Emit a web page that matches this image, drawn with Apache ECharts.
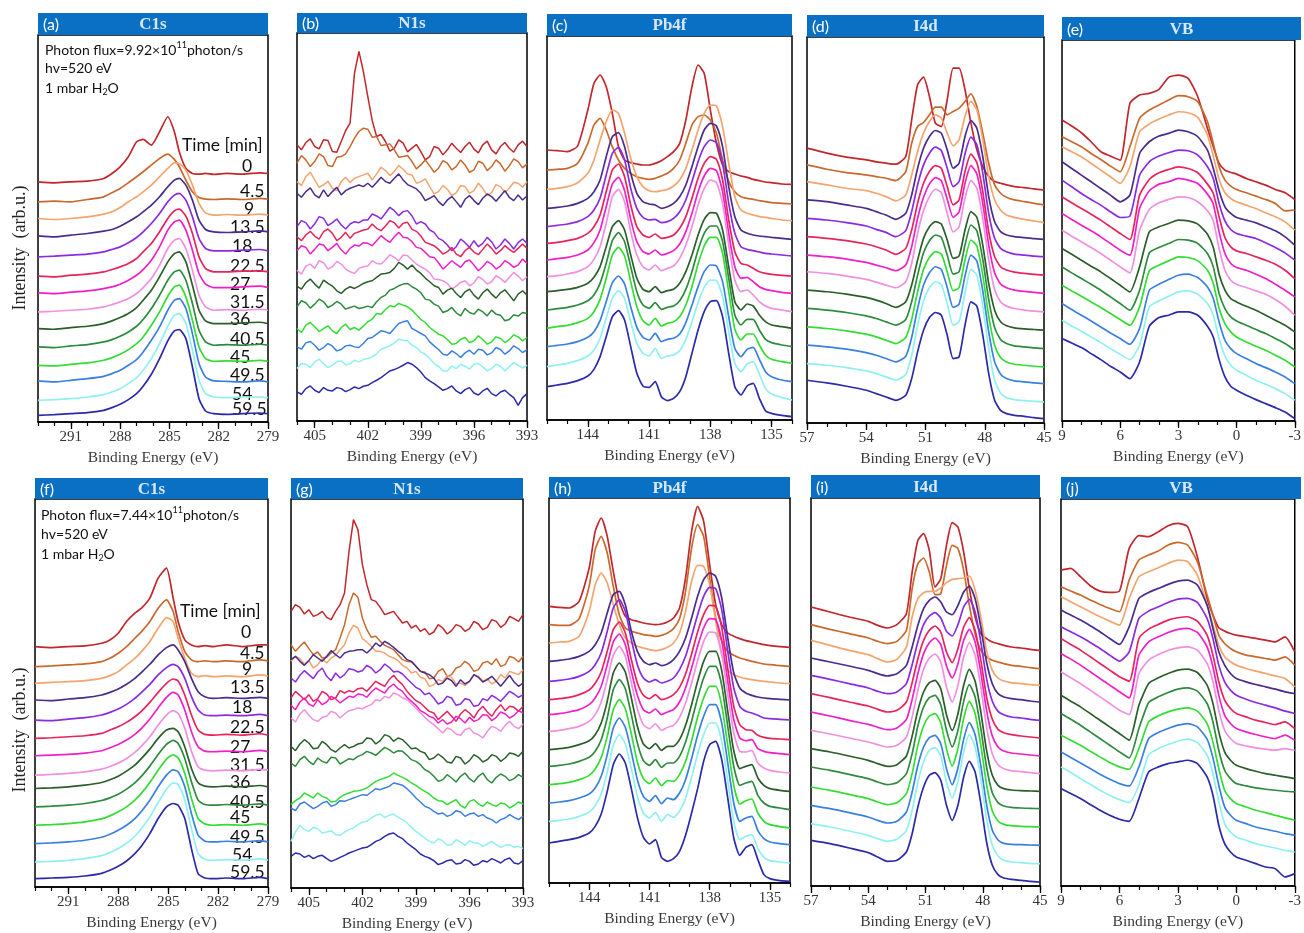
<!DOCTYPE html>
<html><head><meta charset="utf-8">
<script src="https://cdn.jsdelivr.net/npm/echarts@6/dist/echarts.min.js"></script>
<style>html,body{margin:0;padding:0;background:#fff}#c{width:1304px;height:933px}</style>
</head><body><div id="c"></div>
<script>
// ---------- data ----------
const timeLabels = ['0','4.5','9','13.5','18','22.5','27','31.5','36','40.5','45','49.5','54','59.5'];
const curveColors = ['#c1272d','#c8692e','#f4a46e','#4a2c8c','#8a2be2','#e8245a','#f020c8','#f090e0','#2a5e2a','#2e8b3e','#33dd33','#3a80e0','#90f0f0','#2a2aaa'];

const c1sX = [293,292,291,290,289,288.5,288,287.5,287,286.6,286.1,285.6,285.1,284.7,284.4,284.0,283.6,283.2,282.8,282.3,281.5,280.5,279.5,279];
const c1sTop = [
 [720,717,720,722,730,745,765,795,840,847,830,870,915,870,810,760,745,743,745,742,745,743,747,745],
 [660,662,660,667,675,687,700,717,735,750,770,790,803,787,765,725,690,673,668,667,669,667,670,668],
 [610,607,610,615,623,630,643,660,675,690,710,735,760,777,775,755,710,655,627,620,622,620,623,620],
 [558,555,560,565,572,577,587,600,615,630,650,675,705,725,730,710,665,605,577,570,568,570,573,570],
 [495,497,500,503,510,517,525,537,553,570,595,625,660,680,685,665,615,550,520,513,513,515,517,513],
 [437,435,440,443,450,457,465,475,490,510,535,570,610,633,638,617,565,495,460,450,450,452,453,450],
 [387,385,389,393,400,405,413,425,440,457,485,525,575,600,605,575,515,445,413,403,403,405,407,403],
 [330,332,335,338,345,352,360,370,385,403,430,470,520,545,550,520,455,380,345,335,337,335,338,335],
 [280,278,283,287,295,303,313,325,343,365,395,435,480,505,510,480,410,335,303,295,295,297,299,295],
 [225,223,228,232,240,247,257,270,287,307,340,380,425,450,455,425,355,275,240,230,232,230,233,230],
 [170,168,173,177,185,193,203,217,235,255,290,330,377,405,410,375,305,225,190,182,183,182,185,182],
 [123,120,125,130,137,145,155,170,187,210,245,285,335,365,370,340,265,175,135,123,122,120,123,120],
 [65,67,70,75,82,90,100,115,133,155,190,235,287,320,325,295,215,125,85,75,73,75,75,73],
 [20,22,25,28,35,43,53,67,85,107,143,190,243,273,277,250,165,70,33,25,23,25,27,25]
];
const c1sBot = [
 [720,717,720,722,730,740,760,795,820,835,865,925,955,865,795,740,725,720,723,720,725,720,725,725],
 [660,662,665,668,675,685,700,720,745,765,795,835,860,825,765,705,680,675,677,675,677,675,680,677],
 [610,613,615,618,625,633,645,665,685,705,735,775,807,795,745,685,640,630,633,630,632,630,635,632],
 [560,558,563,567,575,583,593,607,625,643,667,695,717,725,710,675,625,585,570,565,567,565,568,565],
 [500,498,503,507,515,523,533,547,565,583,607,635,657,667,660,625,570,530,515,513,515,513,517,513],
 [445,447,450,453,460,470,480,493,510,527,553,583,610,623,617,575,515,470,457,455,457,455,459,455],
 [393,395,397,401,408,417,427,440,457,475,503,537,568,583,575,530,465,420,407,405,407,405,409,405],
 [335,337,340,345,353,361,371,385,403,422,450,485,515,528,520,475,407,360,350,348,350,348,352,350],
 [295,297,300,305,313,321,332,347,365,385,413,445,470,475,465,420,355,312,302,300,302,300,304,300],
 [240,242,245,250,259,267,278,293,312,332,362,397,427,439,430,385,315,260,247,245,247,245,249,245],
 [185,187,190,195,204,213,225,240,260,281,313,350,383,396,387,340,265,205,189,185,187,185,189,185],
 [130,132,135,140,149,158,170,185,205,227,260,300,335,351,345,300,220,155,138,135,137,135,139,135],
 [75,77,80,85,94,103,115,131,152,175,210,253,293,312,307,260,175,100,83,80,82,80,84,80],
 [25,27,29,33,41,50,62,78,100,123,160,205,240,250,245,205,115,40,27,25,27,25,29,25]
];

const n1sX = [406,405.75,405.5,405.25,405,404.75,404.5,404.25,404,403.75,403.5,403.25,403,402.75,402.5,402.25,402,401.75,401.5,401.25,401,400.75,400.5,400.25,400,399.75,399.5,399.25,399,398.75,398.5,398.25,398,397.75,397.5,397.25,397,396.75,396.5,396.25,396,395.75,395.5,395.25,395,394.75,394.5,394.25,394,393.75,393.5,393.25,393];
const n1sTop = [
 [827,812,834,845,822,815,842,840,807,805,837,870,892,1042,1107,1047,972,900,852,858,837,808,817,842,832,806,817,828,807,782,792,822,817,797,812,832,817,804,822,835,814,803,827,838,812,800,822,834,817,805,827,838,822],
 [772,795,782,762,777,800,792,765,762,790,792,800,822,847,867,877,874,850,852,825,827,830,812,790,792,795,777,755,767,782,764,745,757,780,772,752,762,782,767,745,752,778,772,750,762,782,770,748,764,785,777,758,770],
 [717,705,732,745,722,700,707,718,697,690,717,730,714,727,732,737,742,722,740,760,750,735,747,765,754,740,737,712,717,725,702,680,687,705,694,675,684,705,702,682,690,712,697,675,684,708,702,685,697,715,712,700,717],
 [682,670,687,698,677,668,692,672,687,700,677,690,697,702,707,702,712,700,714,730,717,712,727,740,722,708,702,695,682,660,667,675,657,645,662,672,657,640,664,675,660,648,667,680,672,658,674,690,670,660,677,662,674],
 [582,600,594,575,590,612,607,585,594,605,587,575,590,597,594,602,602,620,614,605,622,640,630,615,627,630,614,590,597,590,572,565,547,540,527,510,522,545,534,520,540,522,532,550,537,515,527,545,532,515,534,545,532],
 [552,540,557,568,554,545,567,575,562,540,550,565,547,562,567,572,574,590,577,570,584,600,594,578,592,595,574,568,554,535,530,525,514,500,507,520,500,492,510,520,506,498,514,530,517,500,510,525,514,505,517,530,517],
 [510,525,520,500,514,530,527,510,520,532,512,500,517,527,524,534,532,525,540,555,544,535,552,565,550,548,537,520,517,505,492,490,474,455,467,480,470,460,477,482,467,450,462,478,470,455,464,480,472,460,467,485,472],
 [452,440,464,470,457,480,474,455,462,478,470,455,447,442,457,462,464,480,472,470,482,498,490,480,497,495,482,470,462,455,444,425,424,420,412,395,404,415,420,405,414,432,424,410,417,435,427,415,430,445,434,420,432],
 [404,395,414,425,410,398,422,412,404,390,382,395,402,397,404,412,417,420,430,440,442,445,457,475,467,455,467,452,442,428,417,405,400,380,392,398,382,370,387,395,377,365,384,395,380,368,384,393,377,360,380,390,377],
 [342,360,354,338,350,365,357,340,347,358,350,335,340,344,337,340,344,340,357,370,377,392,397,405,410,412,402,395,384,365,362,350,344,325,330,340,324,315,337,325,320,335,327,315,332,320,317,300,304,318,314,325,322],
 [277,265,287,295,282,268,277,285,270,262,280,290,274,280,272,284,297,305,322,320,334,345,342,352,347,342,332,318,304,295,280,270,260,255,244,230,232,245,250,235,240,255,244,230,237,252,247,235,244,258,252,240,250],
 [222,215,234,238,227,212,220,232,224,210,214,225,227,222,220,232,247,250,260,270,267,262,277,292,297,300,277,270,262,255,237,225,214,200,197,210,202,190,204,212,200,215,212,198,204,220,214,200,210,225,217,205,214],
 [157,172,170,160,177,185,172,160,167,178,180,168,172,182,177,184,187,192,202,215,220,225,234,245,242,240,227,220,207,200,187,172,164,150,150,165,157,170,164,155,170,172,162,150,157,170,164,150,162,175,167,158,167],
 [87,80,97,105,92,85,100,92,90,100,97,88,94,102,97,104,107,115,122,130,140,150,154,160,167,175,170,160,147,130,120,112,102,92,97,105,90,82,94,100,84,78,90,98,82,75,87,92,80,70,47,70,82]
];
const n1sBot = [
 [830,850,842,822,835,815,820,830,812,805,830,850,885,1010,1105,1075,970,910,865,860,842,820,825,830,812,795,800,780,788,770,778,760,768,790,780,762,772,790,785,770,778,800,792,775,782,805,800,782,792,815,808,800,820],
 [730,710,725,738,718,700,708,690,692,705,715,750,790,850,885,872,810,775,752,755,740,728,722,715,700,685,680,678,665,650,648,628,630,650,658,635,640,660,665,680,670,650,655,675,680,670,688,665,670,695,690,678,695],
 [680,695,688,672,682,660,670,688,675,690,698,715,730,765,788,780,748,738,725,710,710,705,695,690,682,668,660,645,650,632,628,605,610,625,620,638,632,612,615,608,620,640,635,620,628,612,620,640,630,650,645,640,655],
 [685,695,680,668,682,700,690,680,695,712,700,690,705,710,712,715,715,705,718,735,725,740,732,722,710,700,685,680,665,650,645,640,630,610,615,630,622,605,625,612,620,640,632,618,625,635,620,605,622,638,618,605,615],
 [630,618,638,652,640,628,648,660,635,622,645,630,640,658,655,648,652,668,660,645,655,672,662,648,650,642,628,615,602,595,580,585,570,552,558,575,570,548,552,568,565,545,548,568,562,578,570,560,575,590,582,572,580],
 [570,590,578,565,580,560,568,590,582,565,570,592,585,592,588,598,600,590,605,620,612,605,625,638,622,610,590,575,562,555,542,530,525,505,518,530,515,500,522,535,525,510,532,545,528,515,535,550,532,545,542,530,545],
 [548,535,558,570,552,545,565,550,558,575,568,555,565,575,572,582,580,572,588,600,592,585,602,612,598,590,572,560,548,532,525,515,510,495,505,492,498,515,508,495,512,500,505,520,518,502,512,528,522,510,518,532,525],
 [510,498,522,535,518,505,500,512,515,530,525,510,522,532,535,540,538,545,550,565,562,575,570,585,580,570,565,552,540,525,512,500,490,478,465,480,475,462,458,475,480,465,460,450,470,485,480,470,488,500,485,478,492],
 [425,412,432,445,435,418,420,440,430,415,408,420,430,420,425,432,435,450,448,432,442,460,455,440,450,445,432,418,420,410,405,385,390,402,392,378,375,395,390,372,382,400,392,378,385,400,395,380,390,405,402,395,410],
 [375,365,385,395,380,370,390,380,375,392,390,372,380,388,385,395,400,410,405,398,410,422,415,405,412,410,398,385,380,370,355,348,335,320,325,340,330,318,335,345,328,318,335,345,325,315,332,342,335,322,328,340,332],
 [250,262,270,285,278,270,285,275,270,258,260,272,280,285,290,292,295,300,310,320,325,330,335,345,338,332,325,315,308,298,290,282,270,262,260,250,258,265,248,240,260,265,252,245,258,250,245,255,252,240,248,258,252],
 [240,232,252,258,248,238,245,255,260,245,250,262,260,265,270,275,280,278,288,298,295,300,305,315,312,308,298,285,270,258,245,240,230,222,225,215,220,232,228,215,222,225,215,220,210,205,195,205,210,220,212,205,215],
 [140,168,188,175,170,182,178,165,168,172,160,158,168,175,180,190,198,200,210,218,222,212,218,222,212,205,195,182,170,160,150,140,135,148,142,128,130,145,138,128,142,135,135,125,132,140,130,122,128,130,122,125,118],
 [95,105,102,92,98,88,95,98,88,80,85,92,98,105,110,115,120,122,130,140,145,155,162,165,155,148,135,125,115,102,95,90,82,70,75,82,85,72,74,85,80,68,72,82,78,88,82,75,85,90,75,72,82]
];

const pb4fX = [146,145.5,145,144.5,144,143.7,143.4,143.1,142.8,142.5,142.2,141.9,141.6,141.3,141,140.7,140.4,140.1,139.8,139.5,139.2,138.9,138.6,138.3,138,137.7,137.4,137.1,136.8,136.5,136.2,135.9,135.6,135.3,135,134.5,134];
const pb4fTop = [
 [810,808,805,822,930,1010,1035,1000,920,820,780,772,768,765,765,770,778,790,805,830,900,1000,1065,1040,930,830,765,745,738,732,728,722,718,714,712,708,707],
 [750,752,755,770,830,885,905,870,820,780,755,740,730,725,722,725,732,740,755,780,830,885,910,915,900,860,780,715,685,670,665,662,658,655,652,650,648],
 [692,695,700,712,740,780,840,895,930,920,860,785,730,700,688,685,688,692,702,720,755,810,870,920,945,942,880,770,670,630,620,615,610,608,605,600,598],
 [635,638,642,650,665,685,720,790,850,862,820,740,680,655,648,645,635,640,650,670,705,760,820,870,890,882,820,700,610,570,560,555,552,550,548,545,542],
 [580,584,588,595,610,630,665,735,800,818,780,695,635,608,600,602,592,595,605,625,660,715,775,820,840,832,770,650,560,520,512,508,504,500,498,495,492],
 [530,533,538,545,560,580,615,685,750,768,730,645,580,555,548,558,545,548,555,575,610,665,725,770,790,782,720,600,505,470,465,455,445,440,437,434,432],
 [480,484,488,495,510,532,570,640,708,728,688,602,535,505,498,510,495,500,508,528,565,620,685,732,755,748,685,560,460,425,428,415,400,392,388,383,380],
 [430,433,438,445,460,482,520,590,670,692,655,565,495,460,450,465,448,455,462,485,525,580,645,695,720,712,650,525,420,385,390,375,355,342,335,330,325],
 [385,388,392,398,410,428,460,520,580,598,570,495,425,392,385,400,382,388,392,410,445,495,555,602,622,620,570,460,355,330,348,342,315,295,285,280,275],
 [330,334,338,345,358,375,410,470,538,562,535,460,385,345,335,352,332,338,342,358,392,445,510,560,582,582,535,425,315,285,302,302,270,242,232,225,220],
 [275,280,284,292,305,325,362,425,495,518,492,415,340,298,285,305,282,290,295,310,345,400,468,522,548,548,500,385,272,240,258,258,225,195,182,175,170],
 [220,224,228,235,248,265,298,355,412,432,408,340,278,248,240,260,235,242,245,258,292,345,400,445,465,462,415,310,215,190,212,218,182,145,130,120,115],
 [160,165,170,178,192,210,245,305,365,388,365,295,230,200,192,215,185,192,195,208,242,295,352,398,420,418,370,265,170,145,168,175,138,95,78,68,60],
 [100,105,110,118,132,152,190,250,310,328,300,220,140,102,98,115,70,58,65,85,130,200,270,325,355,358,310,200,100,75,102,110,65,28,20,14,10]
];
const pb4fBot = [
 [830,827,825,845,945,1055,1095,1040,935,845,800,790,785,780,777,775,777,783,795,825,915,1055,1130,1085,955,835,775,750,740,733,727,723,719,715,712,709,707],
 [775,773,773,793,890,1000,1040,990,890,805,765,755,750,745,743,740,743,750,763,793,875,1005,1075,1040,915,795,725,695,683,675,670,665,661,657,655,652,650],
 [720,723,725,740,815,895,930,900,835,775,735,720,710,705,700,697,700,707,720,750,815,905,953,950,895,785,685,640,625,618,613,610,607,605,603,600,598],
 [665,668,672,680,695,715,750,810,865,875,835,755,695,665,655,660,652,657,670,695,735,795,860,910,930,920,855,735,630,585,570,563,558,555,553,551,549],
 [605,608,612,620,635,655,690,755,825,850,815,730,655,615,603,610,600,605,615,640,680,740,805,860,887,883,820,695,585,530,515,510,503,495,493,491,489],
 [550,553,557,565,579,599,633,695,760,783,750,670,600,563,553,565,550,555,565,587,627,687,753,805,833,830,767,643,530,475,460,458,443,437,434,432,430],
 [505,508,513,520,535,555,590,655,723,747,715,635,563,520,510,522,505,513,520,543,585,645,710,765,793,790,727,605,490,435,427,430,403,395,391,388,385],
 [455,458,463,470,485,505,543,610,683,710,680,600,523,475,463,477,458,467,473,497,540,600,667,725,753,750,687,565,450,395,393,398,360,345,338,333,330],
 [400,403,407,415,427,445,480,545,630,660,633,555,470,417,403,418,398,410,410,430,473,535,605,665,695,695,637,515,397,343,350,355,315,293,283,278,275],
 [350,353,357,365,377,395,430,495,580,610,583,505,420,367,353,370,347,360,360,380,423,485,555,615,650,650,593,470,350,293,300,305,263,240,230,225,220],
 [295,298,302,310,323,342,377,440,520,550,523,447,363,313,298,315,292,307,305,325,365,427,497,555,590,590,533,413,293,237,247,252,210,185,175,169,165],
 [240,243,247,255,267,285,320,385,465,495,467,393,310,260,245,262,238,255,250,270,310,373,443,500,535,535,480,360,240,185,195,200,157,133,123,118,115],
 [185,188,192,200,213,232,267,333,413,445,417,343,260,210,195,212,185,205,197,215,255,317,387,445,480,480,425,305,185,130,140,145,103,77,67,63,60],
 [120,125,130,137,150,170,207,275,355,387,360,283,197,137,117,130,77,65,73,95,143,210,283,365,415,425,370,255,135,83,107,115,70,25,13,7,5]
];

const i4dX = [57,56,55,54,53.5,53,52.5,52,51.7,51.4,51.1,50.8,50.5,50.2,49.9,49.6,49.3,49,48.7,48.4,48.1,47.8,47.5,47.2,46.9,46.5,46,45.5,45];
const i4dTop = [
 [823,808,796,788,782,778,775,798,908,1013,1036,978,898,888,968,1063,1063,998,898,818,768,738,723,718,713,708,705,701,698],
 [773,760,750,743,738,733,726,753,838,888,900,923,946,946,923,933,943,963,986,948,868,778,713,688,676,668,663,658,653],
 [723,713,703,696,688,678,665,683,743,813,868,903,923,913,868,830,848,918,963,938,848,738,668,638,623,616,610,605,600],
 [668,663,653,643,633,623,610,628,683,763,823,858,876,868,818,763,778,858,906,883,798,678,603,573,563,558,555,552,550],
 [613,608,600,590,580,571,558,576,633,713,773,808,826,816,763,708,723,806,856,833,748,628,553,523,513,506,503,500,498],
 [558,553,546,536,528,518,505,523,578,658,718,753,771,763,708,653,668,753,805,780,693,573,498,468,458,452,448,445,443],
 [503,498,491,481,473,465,456,473,528,613,676,716,735,726,670,616,632,718,771,746,658,533,450,416,405,398,394,391,388],
 [453,448,440,430,422,413,405,423,478,568,636,678,700,690,628,572,588,673,726,703,613,488,400,363,350,343,338,335,333],
 [398,393,386,376,368,358,346,363,413,488,553,588,603,596,548,493,500,578,633,616,533,418,338,303,291,285,282,280,278],
 [343,338,331,321,313,303,293,310,363,443,510,546,563,556,503,446,453,533,593,576,490,370,286,250,238,231,228,225,223],
 [288,283,276,266,258,248,238,256,310,393,460,496,513,506,453,396,406,488,548,530,443,320,233,196,183,176,173,170,168],
 [233,228,221,211,203,193,183,200,256,343,413,450,468,460,406,346,356,440,503,485,396,273,183,146,133,126,123,120,118],
 [178,173,166,156,148,138,128,146,203,293,366,405,423,415,358,293,303,390,460,443,350,223,128,90,76,70,67,65,63],
 [128,120,110,98,88,78,68,83,133,213,278,316,331,323,263,193,198,293,363,350,263,148,68,38,28,23,20,16,13]
];
const i4dBot = [
 [837,822,807,794,782,774,784,817,942,1037,1057,1007,897,922,1022,1090,1077,1002,892,807,757,742,732,727,722,717,714,710,707],
 [784,770,757,744,734,727,734,767,892,967,984,942,874,877,962,1022,1012,947,842,757,707,687,677,672,667,662,659,655,652],
 [737,722,707,694,682,672,680,717,807,862,880,884,884,894,910,920,922,924,930,887,807,707,647,624,615,610,607,604,602],
 [684,672,660,647,637,630,637,662,717,782,832,857,867,852,822,814,842,882,900,862,777,672,607,577,567,562,559,555,552],
 [632,620,607,594,584,577,582,607,664,732,784,810,820,804,764,750,784,837,860,822,732,622,554,524,514,507,504,500,497],
 [577,565,552,540,530,522,527,552,610,682,737,767,780,762,702,670,712,777,805,767,677,567,500,470,460,454,450,447,444],
 [522,510,497,485,476,469,474,500,560,637,697,730,744,724,660,624,667,737,770,732,640,527,450,417,405,399,396,393,390],
 [467,456,444,432,424,417,422,447,507,587,650,684,696,672,597,552,602,687,730,692,597,477,397,364,352,346,343,340,337],
 [412,402,390,377,367,359,364,390,450,527,582,610,617,592,514,467,517,602,650,614,522,407,332,302,292,288,286,285,284],
 [357,347,335,322,312,304,310,337,397,480,537,565,572,544,467,417,467,554,604,567,472,357,280,250,240,236,234,233,232],
 [297,287,275,262,252,244,250,277,337,422,480,510,517,490,412,360,412,502,554,517,422,304,225,195,185,181,179,178,177],
 [242,232,220,207,197,189,194,222,282,362,417,445,452,427,352,304,354,440,490,454,360,244,167,138,128,125,124,123,122],
 [187,177,165,152,142,134,140,167,227,312,372,407,415,390,312,264,314,402,454,417,322,202,122,90,77,72,70,68,67],
 [137,127,114,100,87,74,77,102,157,237,297,332,340,317,242,197,242,327,374,342,247,132,62,34,24,20,17,14,12]
];

const vbX = [9,8.5,8,7.5,7,6.5,6,5.5,5,4.5,4,3.5,3,2.5,2,1.5,1.2,0.9,0.6,0.3,0,-0.5,-1,-1.5,-2,-2.5,-3];
const vbTop = [
 [902,884,864,837,807,794,782,952,977,982,994,1030,1037,1027,972,877,822,772,752,745,740,727,717,707,694,684,664],
 [852,837,822,802,784,764,747,822,907,932,947,962,975,972,957,897,832,762,722,704,694,684,674,664,652,630,632],
 [822,807,792,772,752,732,712,762,867,890,905,917,927,924,910,857,794,724,684,667,657,647,637,624,612,597,572],
 [777,757,737,717,697,677,657,677,802,837,854,862,872,867,852,812,757,690,642,622,610,602,594,582,570,552,527],
 [722,702,682,664,647,627,610,614,737,777,794,804,812,810,797,762,727,652,600,574,562,554,547,534,520,504,482],
 [672,654,637,620,602,582,562,544,677,724,744,754,762,757,744,710,682,612,550,522,510,502,492,482,470,452,427],
 [622,604,587,570,552,532,512,497,637,690,710,717,727,722,712,680,650,567,502,472,460,452,440,427,410,392,372],
 [572,554,537,520,502,482,462,444,572,634,654,664,672,670,657,630,600,517,452,422,410,400,390,380,364,344,317],
 [517,500,482,464,447,427,407,387,462,567,582,592,602,600,590,560,520,440,392,367,357,344,332,317,302,287,267],
 [462,444,427,410,392,372,352,332,392,504,520,532,544,542,532,502,462,382,337,312,300,287,274,262,247,232,212],
 [407,390,374,357,340,322,304,287,342,450,467,480,492,490,480,452,412,337,292,267,252,237,224,212,197,182,162],
 [352,334,317,300,282,264,247,230,277,392,410,424,437,440,430,402,367,297,242,217,202,187,172,160,147,132,112],
 [302,285,269,252,235,217,200,184,227,342,360,374,387,390,380,352,317,247,194,167,152,137,122,110,97,82,62],
 [247,234,220,202,184,164,147,127,177,284,310,317,327,327,317,284,252,184,132,104,92,77,64,52,40,27,7]
];
const vbBot = [
 [947,952,927,900,884,880,884,1012,1050,1047,1062,1080,1087,1077,987,862,812,774,764,757,752,747,742,737,732,747,702],
 [897,884,872,857,844,832,822,917,977,992,1004,1022,1030,1022,972,872,812,752,727,712,702,692,687,682,677,687,662],
 [867,852,837,822,807,794,782,862,927,942,954,967,977,972,932,842,782,722,687,672,662,652,644,637,630,622,597],
 [827,812,797,780,762,742,724,777,862,880,892,904,914,917,902,842,772,702,662,637,622,612,604,597,590,582,577],
 [777,762,747,730,712,692,674,702,802,824,837,850,860,862,850,802,742,662,612,587,572,560,550,542,534,524,517],
 [742,724,707,687,667,647,627,614,742,770,784,797,804,807,794,752,692,612,557,532,517,507,497,490,484,492,472],
 [697,680,662,642,622,602,582,564,692,732,747,760,769,772,760,717,657,572,512,487,472,462,454,447,442,452,437],
 [642,624,607,587,567,547,527,514,637,677,694,706,714,717,707,667,612,527,467,442,427,420,414,410,407,412,407],
 [572,554,537,517,497,477,457,437,542,607,624,637,647,650,640,602,547,462,402,377,362,352,344,337,332,327,322],
 [517,500,482,462,442,422,402,384,472,550,567,580,590,594,584,547,492,407,347,322,307,300,294,290,287,284,282],
 [452,437,422,404,387,370,357,350,412,492,510,522,530,534,524,487,432,352,287,262,247,237,227,220,212,204,197],
 [402,385,369,352,335,320,307,300,357,442,460,472,482,487,477,440,384,302,237,212,197,187,177,170,164,157,152],
 [357,340,322,305,287,272,259,250,302,394,412,424,434,440,430,392,337,254,187,162,147,137,127,120,114,107,102],
 [292,277,262,244,227,212,200,194,262,342,357,367,372,377,367,327,272,182,127,102,87,77,67,57,52,27,37]
];

// ---------- layout (positions only) ----------
const panels = [
 {tag:'(a)', title:'C1s',  x:c1sX,  y:c1sTop,  min:279, max:293, box:[38,35,230,387],  yMax:1160, head:[38,13,230,22],  smooth:0.2},
 {tag:'(b)', title:'N1s',  x:n1sX,  y:n1sTop,  min:393, max:406, box:[297,33,230,388], yMax:1162, head:[297,13,230,20], smooth:false},
 {tag:'(c)', title:'Pb4f', x:pb4fX, y:pb4fTop, min:134, max:146, box:[547,36,245,384], yMax:1152, head:[547,14,245,22], smooth:0.2},
 {tag:'(d)', title:'I4d',  x:i4dX,  y:i4dTop,  min:45,  max:57,  box:[807,37,237,386], yMax:1156, head:[807,15,237,22], smooth:0.2},
 {tag:'(e)', title:'VB',   x:vbX,   y:vbTop,   min:-3,  max:9,   box:[1062,40,239,381],yMax:1142, head:[1062,17,239,23],smooth:0.2},
 {tag:'(f)', title:'C1s',  x:c1sX,  y:c1sBot,  min:279, max:293, box:[35,499,233,388], yMax:1162, head:[35,478,233,21], smooth:0.2},
 {tag:'(g)', title:'N1s',  x:n1sX,  y:n1sBot,  min:393, max:406, box:[291,499,232,389],yMax:1167, head:[291,478,232,21], smooth:false},
 {tag:'(h)', title:'Pb4f', x:pb4fX, y:pb4fBot, min:134, max:146, box:[549,498,241,385],yMax:1155, head:[549,477,241,21], smooth:0.2},
 {tag:'(i)', title:'I4d',  x:i4dX,  y:i4dBot,  min:45,  max:57,  box:[811,498,229,388],yMax:1164, head:[811,475,229,23], smooth:0.2},
 {tag:'(j)', title:'VB',   x:vbX,   y:vbBot,   min:-3,  max:9,   box:[1061,499,240,387],yMax:1160, head:[1061,477,240,22],smooth:0.2}
];
const timeLayout = [
 {head:[182,145], xs:[242,240,244,230,232,230,230,230,230,230,230,230,232,232], ys:[166,191,209,227,246,266,284,302,319,339,357,375,394,409]},
 {head:[180,611], xs:[241,240,242,230,232,230,230,230,230,230,230,230,232,230], ys:[632,653,669,687,707,727,747,765,782,802,817,837,855,872]}
];
const annotations = [
 {x:45, ys:[50,68,88], flux:'9.92'},
 {x:41, ys:[515,534,554], flux:'7.44'}
];

// sanity check
panels.forEach(p => p.y.forEach((arr, k) => { if (arr.length !== p.x.length) throw new Error(p.tag + ' curve ' + k + ' len ' + arr.length + ' vs ' + p.x.length); }));

const grids = [], xAxes = [], yAxes = [], series = [], graphics = [];
panels.forEach((p, gi) => {
  grids.push({left:p.box[0], top:p.box[1], width:p.box[2], height:p.box[3], show:true, borderColor:'#000', borderWidth:1.5});
  xAxes.push({gridIndex:gi, type:'value', min:p.min, max:p.max, inverse:true, interval:1,
    axisLine:{show:true, onZero:false, lineStyle:{color:'#000', width:1.5}},
    axisTick:{show:true, length:4, lineStyle:{color:'#000', width:1.2}},
    splitLine:{show:false},
    axisLabel:{formatter:v => (Math.round(v) % 3 === 0 ? String(Math.round(v)) : ''), fontFamily:'Liberation Serif', fontSize:15, color:'#333', margin:8, showMinLabel:true, showMaxLabel:true, hideOverlap:false},
    name:'Binding Energy (eV)', nameLocation:'middle', nameGap:28,
    nameTextStyle:{fontFamily:'Liberation Serif', fontSize:15.5, color:'#3a3a3a'}});
  yAxes.push({gridIndex:gi, type:'value', min:0, max:p.yMax, show:false});
  p.y.forEach((ys, k) => {
    series.push({type:'line', xAxisIndex:gi, yAxisIndex:gi, showSymbol:false, symbol:'none', smooth:p.smooth,
      lineStyle:{color:curveColors[k], width:p.smooth === false ? 1.5 : 1.7}, itemStyle:{color:curveColors[k]},
      data:p.x.map((xv, i) => [xv, ys[i]]), silent:true, animation:false, clip:true});
  });
  const h = p.head;
  graphics.push({type:'rect', shape:{x:h[0], y:h[1], width:h[2], height:h[3]}, style:{fill:'#0a70c4'}, silent:true});
  graphics.push({type:'text', x:h[0]+5, y:h[1]+h[3]/2+1, style:{text:p.tag, fill:'#ffffff', fontFamily:'Lato', fontSize:16, align:'left', verticalAlign:'middle'}, silent:true});
  graphics.push({type:'text', x:h[0]+h[2]/2, y:h[1]+h[3]/2+1, style:{text:p.title, fill:'#d6e7f8', fontFamily:'Liberation Serif', fontWeight:'bold', fontSize:17, align:'center', verticalAlign:'middle'}, silent:true});
});
// secondary axes: longer major ticks at the labelled values
panels.forEach((p, gi) => {
  const major = [];
  for (let v = Math.ceil(p.min / 3) * 3; v <= p.max; v += 3) major.push(v);
  xAxes.push({gridIndex:gi, type:'value', min:p.min, max:p.max, inverse:true, position:'bottom',
    axisLine:{show:false}, splitLine:{show:false}, axisLabel:{show:false},
    axisTick:{show:true, length:7, customValues:major, lineStyle:{color:'#000', width:1.3}}});
});

// time labels
timeLayout.forEach(t => {
  graphics.push({type:'text', x:t.head[0], y:t.head[1], style:{text:'Time [min]', fill:'#111', fontFamily:'Lato', fontSize:17.5, align:'left', verticalAlign:'middle'}, silent:true});
  timeLabels.forEach((lab, k) => {
    graphics.push({type:'text', x:t.xs[k], y:t.ys[k], style:{text:lab, fill:'#111', fontFamily:'Lato', fontSize:17.5, align:'left', verticalAlign:'middle'}, silent:true});
  });
});

// annotations
annotations.forEach(a => {
  const rich = {n:{fontFamily:'Lato', fontSize:14, fill:'#111', lineHeight:18, verticalAlign:'middle'},
                sup:{fontFamily:'Lato', fontSize:9, fill:'#111', lineHeight:18, verticalAlign:'top'},
                sub:{fontFamily:'Lato', fontSize:9, fill:'#111', lineHeight:18, verticalAlign:'bottom'}};
  graphics.push({type:'text', x:a.x, y:a.ys[0], style:{text:'{n|Photon flux=' + a.flux + '×10}{sup|11}{n|photon/s}', rich:rich, align:'left', verticalAlign:'middle'}, silent:true});
  graphics.push({type:'text', x:a.x, y:a.ys[1], style:{text:'{n|hv=520 eV}', rich:rich, align:'left', verticalAlign:'middle'}, silent:true});
  graphics.push({type:'text', x:a.x, y:a.ys[2], style:{text:'{n|1 mbar H}{sub|2}{n|O}', rich:rich, align:'left', verticalAlign:'middle'}, silent:true});
});

// y axis titles
[[20,248],[20,730]].forEach(pos => {
  graphics.push({type:'text', x:pos[0], y:pos[1], rotation:Math.PI/2, style:{text:'Intensity  (arb.u.)', fill:'#222', fontFamily:'Liberation Serif', fontSize:18, align:'center', verticalAlign:'middle'}, silent:true});
});

const chart = echarts.init(document.getElementById('c'), null, {renderer:'canvas'});
chart.setOption({animation:false, backgroundColor:'#fff', grid:grids, xAxis:xAxes, yAxis:yAxes, series:series, graphic:graphics});
</script></body></html>
